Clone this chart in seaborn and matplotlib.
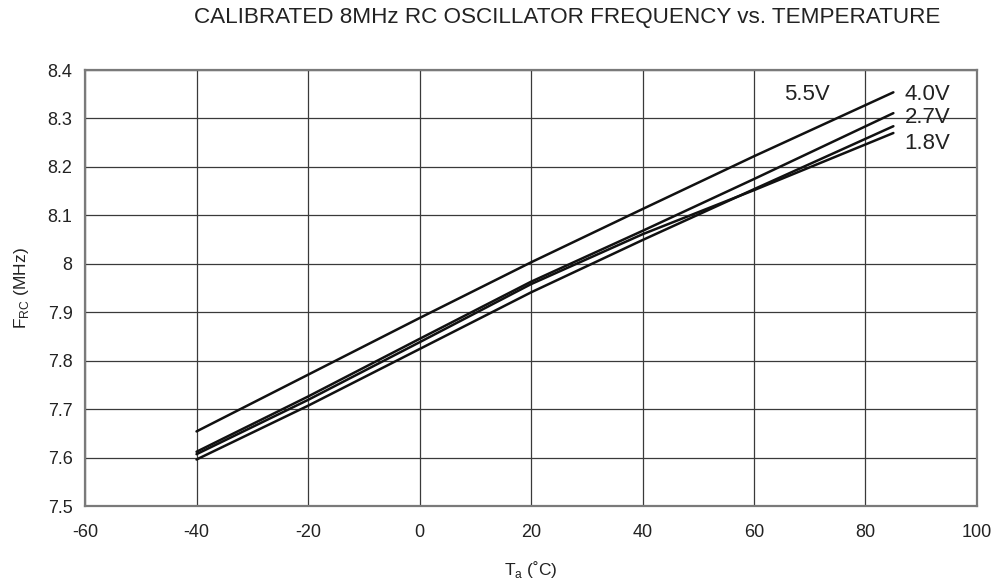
import matplotlib
matplotlib.use("Agg")
import matplotlib.pyplot as plt
import pandas as pd
import seaborn as sns

# temperatures (C) and frequency readings (MHz) per supply voltage
temps = [-40, -20, 0, 20, 40, 60, 85]
f_55 = [7.654, 7.771, 7.888, 8.003, 8.113, 8.222, 8.354]
f_40 = [7.612, 7.726, 7.845, 7.963, 8.068, 8.175, 8.311]
f_27 = [7.596, 7.707, 7.824, 7.941, 8.049, 8.154, 8.284]
f_18 = [7.607, 7.719, 7.838, 7.958, 8.061, 8.152, 8.270]
voltages = ["5.5V", "4.0V", "2.7V", "1.8V"]

xticks = [-60, -40, -20, 0, 20, 40, 60, 80, 100]
yticks = [7.5, 7.6, 7.7, 7.8, 7.9, 8.0, 8.1, 8.2, 8.3, 8.4]
ytick_labels = ["7.5", "7.6", "7.7", "7.8", "7.9", "8", "8.1", "8.2", "8.3", "8.4"]

rows = []
for v, vals in zip(voltages, [f_55, f_40, f_27, f_18]):
    for t, f in zip(temps, vals):
        rows.append({"T": t, "F": f, "V": v})
df = pd.DataFrame(rows)

sns.set_style("white")
plt.rcParams["font.family"] = ["Liberation Sans", "DejaVu Sans"]
plt.rcParams["mathtext.fontset"] = "custom"
plt.rcParams["mathtext.rm"] = "Liberation Sans"
plt.rcParams["axes.unicode_minus"] = False

fig = plt.figure(figsize=(10.04, 5.86), dpi=100)
ax = fig.add_axes([0.0847, 0.1365, 0.8884, 0.744])

sns.lineplot(data=df, x="T", y="F", hue="V", hue_order=voltages,
             palette=["#111111"] * 4, linewidth=1.8, legend=False, ax=ax)

ax.set_xlim(-60, 100)
ax.set_ylim(7.5, 8.4)
ax.set_xticks(xticks)
ax.set_yticks(yticks)
ax.set_yticklabels(ytick_labels)
ax.tick_params(length=0, labelsize=13, colors="#222222")
ax.tick_params(axis="x", pad=13)
ax.tick_params(axis="y", pad=9)
ax.grid(True, color="#3a3a3a", linewidth=0.9)
for s in ax.spines.values():
    s.set_color("#7a7a7a")
    s.set_linewidth(1.6)

ax.set_xlabel(r"T$_{\rm a}$ (˚C)", fontsize=12.5, color="#222222", labelpad=13)
ax.set_ylabel(r"F$_{\rm RC}$ (MHz)", fontsize=12.5, color="#222222", labelpad=12)

# curve labels
ax.text(69.5, 8.349, "5.5V", fontsize=16, ha="center", va="center", color="#222222")
ax.text(87.0, 8.349, "4.0V", fontsize=16, ha="left", va="center", color="#222222")
ax.text(87.0, 8.301, "2.7V", fontsize=16, ha="left", va="center", color="#222222")
ax.text(87.0, 8.249, "1.8V", fontsize=16, ha="left", va="center", color="#222222")

fig.text(567 / 1004, 1 - 18 / 586, "CALIBRATED 8MHz RC OSCILLATOR FREQUENCY vs. TEMPERATURE",
         fontsize=16.2, ha="center", va="center", color="#222222")

fig.savefig("out.png", dpi=100)
